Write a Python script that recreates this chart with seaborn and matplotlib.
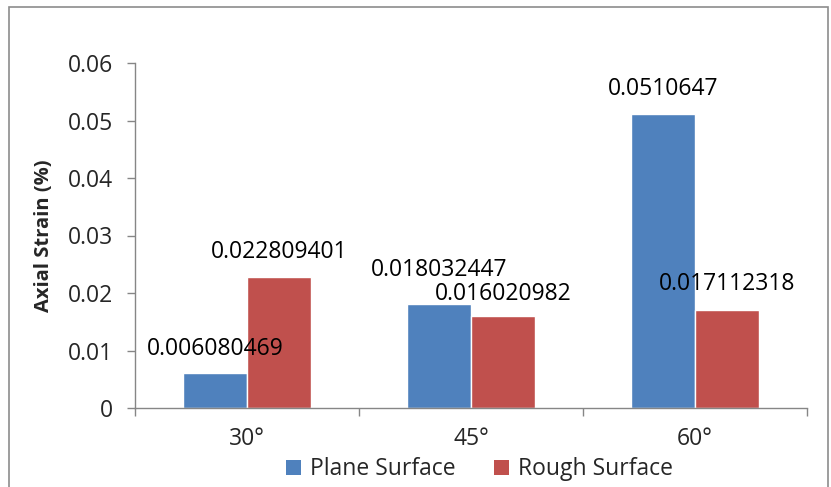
import matplotlib
matplotlib.use("Agg")
import matplotlib.pyplot as plt
import seaborn as sns
import pandas as pd
from matplotlib.patches import Rectangle, Patch

categories = ["30°", "45°", "60°"]
plane = [0.006080469, 0.018032447, 0.0510647]
rough = [0.022809401, 0.016020982, 0.017112318]
plane_labels = ["0.006080469", "0.018032447", "0.0510647"]
rough_labels = ["0.022809401", "0.016020982", "0.017112318"]
series = ["Plane Surface", "Rough Surface"]
colors = ["#4F81BD", "#C0504D"]

# label vertical offsets (points) above bar tops
plane_offsets = [17, 24.5, 18.5]
rough_offsets = [18, 16, 18.5]

df = pd.DataFrame({
    "angle": categories * 2,
    "value": plane + rough,
    "series": [series[0]] * 3 + [series[1]] * 3,
})

sns.set_theme(style="white")
plt.rcParams["font.family"] = ["Open Sans", "DejaVu Sans"]

fig = plt.figure(figsize=(8.31, 4.87), dpi=100)
ax = fig.add_axes([135/831, 79/487, (807-135)/831, (408-63)/487])

sns.barplot(data=df, x="angle", y="value", hue="series", order=categories,
            hue_order=series, palette=colors, width=0.571, saturation=1,
            ax=ax, legend=False)

gray = "#868686"
ax.set_xlim(-0.5, 2.5)
ax.set_ylim(0, 0.06)
ax.set_yticks([0, 0.01, 0.02, 0.03, 0.04, 0.05, 0.06])
ax.set_yticklabels(["0", "0.01", "0.02", "0.03", "0.04", "0.05", "0.06"], fontsize=16.5)
ax.set_xticks([-0.5, 0.5, 1.5, 2.5])
ax.set_xticklabels([])
ax.set_xticks([0, 1, 2], minor=True)
ax.set_xticklabels(categories, minor=True, fontsize=16.5)
ax.tick_params(axis="x", which="minor", length=0, pad=14)
ax.tick_params(axis="x", which="major", length=6, color=gray, width=1, direction="out")
ax.tick_params(axis="y", length=6, color=gray, width=1, direction="out", pad=10)
ax.tick_params(bottom=True, left=True, which="major")
for s in ["top", "right"]:
    ax.spines[s].set_visible(False)
for s in ["left", "bottom"]:
    ax.spines[s].set_color(gray)
    ax.spines[s].set_linewidth(1)
ax.set_xlabel("")
ax.set_ylabel("Axial Strain (%)", fontsize=14.5, fontweight="bold", labelpad=10)

# data labels
for bars, labels, offs in zip(ax.containers, [plane_labels, rough_labels],
                              [plane_offsets, rough_offsets]):
    for rect, lab, off in zip(bars, labels, offs):
        ax.annotate(lab, (rect.get_x() + rect.get_width()/2, rect.get_height()),
                    xytext=(0, off), textcoords="offset points",
                    ha="center", va="center", fontsize=16.5, color="black")

handles = [Patch(facecolor=c, edgecolor="none") for c in colors]
fig.legend(handles, series, loc="center", bbox_to_anchor=(0.577, 0.036), ncol=2,
           frameon=False, fontsize=16.5, handlelength=0.65, handleheight=0.65,
           handletextpad=0.4, columnspacing=1.7)

fig.patches.append(Rectangle((9/831, -0.05), (828-9)/831, 1.05 - 7/487,
                             transform=fig.transFigure, fill=False,
                             edgecolor="#8c8c8c", lw=1.2))

fig.savefig("out.png", dpi=100)
